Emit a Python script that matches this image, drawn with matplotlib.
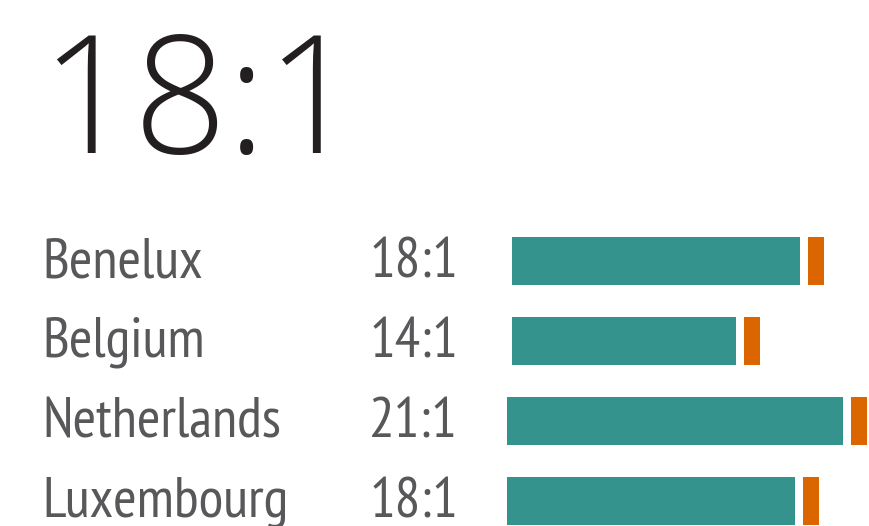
import matplotlib
matplotlib.use("Agg")
import matplotlib.pyplot as plt
import matplotlib.transforms as mtransforms

# data
headline = "18:1"
countries = ["Benelux", "Belgium", "Netherlands", "Luxembourg"]
ratios = [18, 14, 21, 18]
ratio_labels = ["18:1", "14:1", "21:1", "18:1"]
minority = [1, 1, 1, 1]

# layout (pixels / bar units)
W, H = 870, 526
px_per_unit = 16
bar_left_px = 507
row0_px, row_step_px = 261, 80
bar_shift = [5 / 16, 5 / 16, 0, 0]  # small start offsets seen in the original
gap = 0.5

teal = "#35938d"
orange = "#db6600"
grey = "#58585a"
black = "#231f20"

fig = plt.figure(figsize=(W / 100, H / 100), dpi=100)
ax = fig.add_axes([bar_left_px / W, 0, 1 - bar_left_px / W, 1])
ax.set_xlim(0, (W - bar_left_px) / px_per_unit)
ax.set_ylim((H - row0_px) / row_step_px, -row0_px / row_step_px)
ax.axis("off")

rows = list(range(len(countries)))
ax.barh(rows, ratios, left=bar_shift, height=0.6, color=teal)
ax.barh(rows, minority, left=[r + s + gap for r, s in zip(ratios, bar_shift)],
        height=0.6, color=orange)

trans = mtransforms.blended_transform_factory(fig.transFigure, ax.transData)
label_font = dict(family=["PT Sans Narrow", "DejaVu Sans"], size=41, color=grey)
for i, (c, lab) in enumerate(zip(countries, ratio_labels)):
    ax.text(42 / W, i + 0.2, c, transform=trans, ha="left", va="baseline", **label_font)
    ax.text(458 / W, i + 0.2, lab, transform=trans, ha="right", va="baseline", **label_font)

fig.text(40 / W, 1 - 153 / H, headline, ha="left", va="baseline",
         family=["Open Sans", "DejaVu Sans"], weight="light", size=118, color=black)

fig.savefig("out.png", dpi=100)
